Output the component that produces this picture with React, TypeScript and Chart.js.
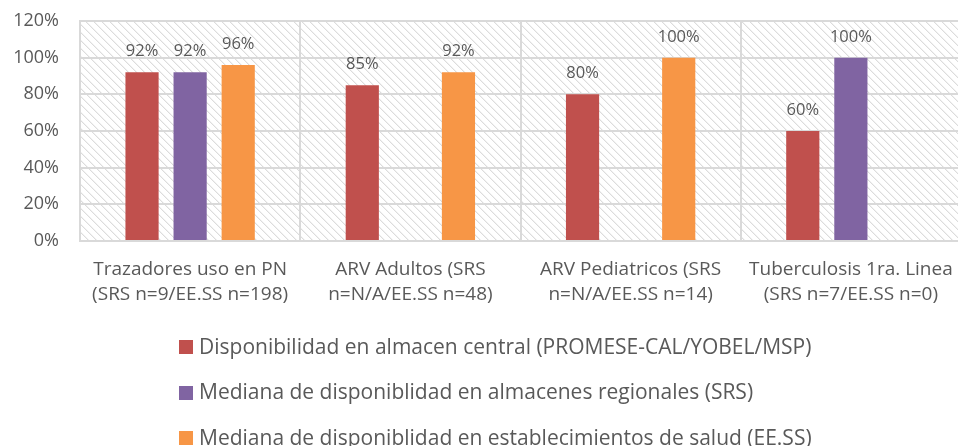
import React, { useEffect, useRef } from "react";
import { Chart, registerables } from "chart.js";

Chart.register(...registerables);

const categories: string[][] = [
  ["Trazadores uso en PN", "(SRS n=9/EE.SS n=198)"],
  ["ARV Adultos (SRS", "n=N/A/EE.SS n=48)"],
  ["ARV Pediatricos (SRS", "n=N/A/EE.SS n=14)"],
  ["Tuberculosis 1ra. Linea", "(SRS n=7/EE.SS n=0)"],
];

const seriesNames = [
  "Disponibilidad en almacen central (PROMESE-CAL/YOBEL/MSP)",
  "Mediana de disponiblidad en almacenes regionales (SRS)",
  "Mediana de disponiblidad en establecimientos de salud (EE.SS)",
];

const centralValues: (number | null)[] = [92, 85, 80, 60];
const regionalValues: (number | null)[] = [92, null, null, 100];
const facilityValues: (number | null)[] = [96, 92, 100, null];

const seriesColors = ["#C0504D", "#8064A2", "#F79646"];

const yMin = 0;
const yMax = 120;
const yStep = 20;

const FONT = "'Open Sans', sans-serif";
const TEXT = "#595959";
const GRID = "#d9d9d9";

function makePattern(ctx: CanvasRenderingContext2D): CanvasPattern | string {
  const c = document.createElement("canvas");
  c.width = 8;
  c.height = 8;
  const p = c.getContext("2d");
  if (!p) return "#ffffff";
  p.fillStyle = "#ffffff";
  p.fillRect(0, 0, 8, 8);
  for (let i = 0; i < 8; i++) {
    p.fillStyle = "#dcdcdc";
    p.fillRect(i, i, 1, 1);
    p.fillStyle = "#f2f2f2";
    p.fillRect((i + 1) % 8, i, 1, 1);
  }
  return ctx.createPattern(c, "repeat") || "#ffffff";
}

const hatchPlugin = {
  id: "hatchBg",
  beforeDraw(chart: any) {
    const { ctx, chartArea } = chart;
    if (!chartArea) return;
    ctx.save();
    ctx.fillStyle = makePattern(ctx);
    ctx.fillRect(
      chartArea.left,
      chartArea.top,
      chartArea.right - chartArea.left,
      chartArea.bottom - chartArea.top
    );
    ctx.restore();
  },
};

const labelPlugin = {
  id: "barLabels",
  afterDatasetsDraw(chart: any) {
    const { ctx } = chart;
    ctx.save();
    ctx.font = `16.5px ${FONT}`;
    ctx.fillStyle = TEXT;
    ctx.textAlign = "center";
    ctx.textBaseline = "alphabetic";
    chart.data.datasets.forEach((ds: any, di: number) => {
      const meta = chart.getDatasetMeta(di);
      meta.data.forEach((el: any, i: number) => {
        const v = ds.data[i];
        if (v === null || v === undefined) return;
        ctx.fillText(`${v}%`, el.x, el.y - 16);
      });
    });
    ctx.restore();
  },
};

const legendPlugin = {
  id: "customLegend",
  afterDraw(chart: any) {
    const { ctx, chartArea } = chart;
    ctx.save();
    ctx.font = `21px ${FONT}`;
    ctx.textBaseline = "middle";
    ctx.textAlign = "left";
    const box = 14;
    const gap = 6;
    const names = chart.data.datasets.map((d: any) => d.label as string);
    const maxW = Math.max(...names.map((n: string) => ctx.measureText(n).width));
    const blockW = box + gap + maxW;
    const cx = (chartArea.left + chartArea.right) / 2 - 25;
    const x0 = Math.round(cx - blockW / 2);
    const top = chartArea.bottom + 106;
    const rowH = 45.5;
    chart.data.datasets.forEach((ds: any, i: number) => {
      const y = top + i * rowH;
      ctx.fillStyle = ds.backgroundColor;
      ctx.fillRect(x0, Math.round(y - box / 2), box, box);
      ctx.fillStyle = TEXT;
      ctx.fillText(ds.label, x0 + box + gap, y + 1);
    });
    ctx.restore();
  },
};

export default function App() {
  const ref = useRef<HTMLCanvasElement | null>(null);

  useEffect(() => {
    document.body.style.margin = "0";
    const canvas = ref.current;
    if (!canvas) return;
    const data = {
      labels: categories,
      datasets: [centralValues, regionalValues, facilityValues].map((vals, i) => ({
        label: seriesNames[i],
        data: vals,
        backgroundColor: seriesColors[i],
        borderWidth: 0,
        categoryPercentage: 0.655,
        barPercentage: 0.69,
      })),
    };
    const chart = new Chart(canvas, {
      type: "bar",
      data: data as any,
      plugins: [hatchPlugin, labelPlugin, legendPlugin],
      options: {
        animation: false,
        responsive: false,
        devicePixelRatio: 1,
        layout: { padding: { top: 21, right: 0, bottom: 0, left: 0 } },
        plugins: {
          legend: { display: false },
          tooltip: { enabled: false },
        },
        scales: {
          x: {
            grid: {
              color: GRID,
              lineWidth: 2,
              drawTicks: false,
              offset: true,
            },
            border: { color: GRID, width: 2 },
            ticks: {
              color: TEXT,
              padding: 16,
              maxRotation: 0,
              autoSkip: false,
              font: { family: FONT, size: 19, lineHeight: "25px" as any },
            },
            afterFit: (scale: any) => {
              scale.height = 205;
              scale.paddingLeft = 0;
              scale.paddingRight = 0;
            },
          },
          y: {
            min: yMin,
            max: yMax,
            grid: { color: GRID, lineWidth: 2, drawTicks: false },
            border: { color: GRID, width: 2 },
            ticks: {
              stepSize: yStep,
              color: TEXT,
              padding: 21,
              font: { family: FONT, size: 18 },
              callback: (v: any) => `${v}%`,
            },
            afterFit: (scale: any) => {
              scale.width = 80;
              scale.paddingTop = 0;
              scale.paddingBottom = 0;
            },
          },
        },
      },
    });
    return () => chart.destroy();
  }, []);

  return (
    <div style={{ width: 958, height: 446, overflow: "hidden" }}>
      <canvas ref={ref} width={961} height={446} style={{ display: "block" }} />
    </div>
  );
}
